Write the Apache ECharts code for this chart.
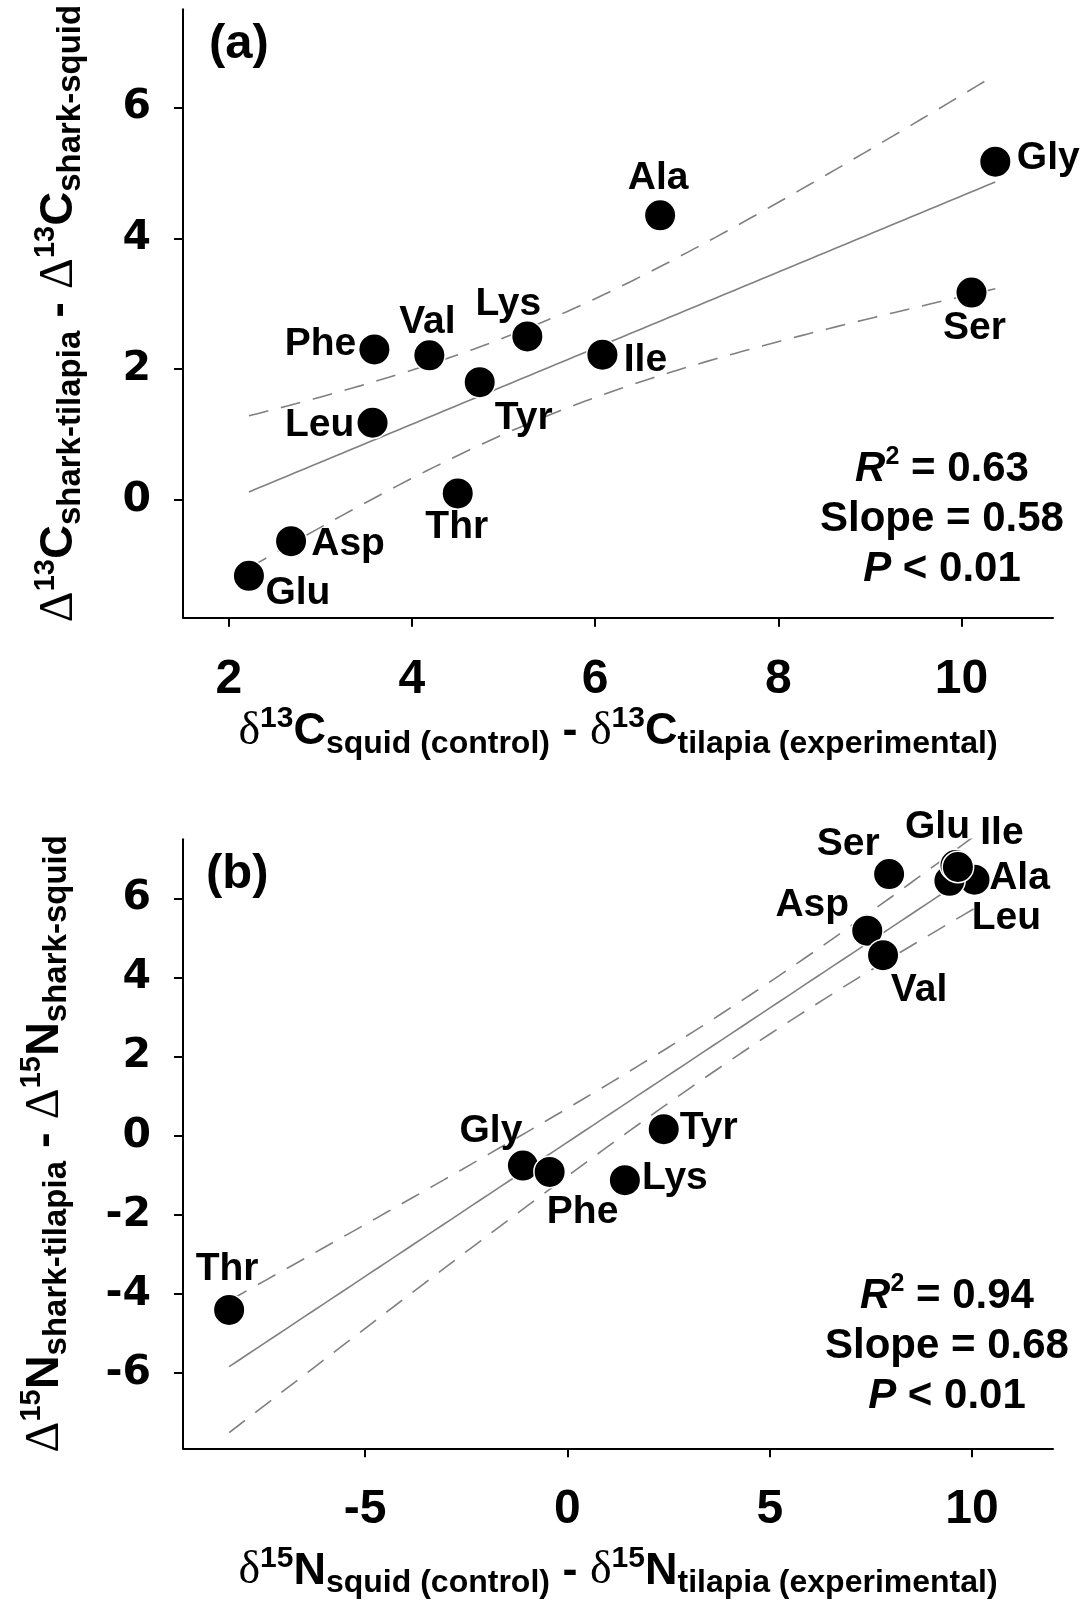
<!DOCTYPE html>
<html>
<head>
<meta charset="utf-8">
<script src="https://cdn.jsdelivr.net/npm/echarts@6/dist/echarts.min.js"></script>
<style>
  html, body { margin: 0; padding: 0; background: #fff; }
  #chart { width: 1082px; height: 1615px; }
</style>
</head>
<body>
<div id="chart"></div>
<script>
// ---- (a) carbon: amino acids and their offsets ----
const aminoC   = ['Glu', 'Asp', 'Leu', 'Phe', 'Thr', 'Val', 'Tyr', 'Lys', 'Ile', 'Ala', 'Ser', 'Gly'];
const carbonX  = [2.22, 2.68, 3.57, 3.59, 4.50, 4.19, 4.74, 5.26, 6.08, 6.71, 10.11, 10.37];
const carbonY  = [-1.16, -0.63, 1.18, 2.30, 0.10, 2.21, 1.80, 2.50, 2.22, 4.35, 3.17, 5.17];

// ---- (b) nitrogen ----
const aminoN    = ['Thr', 'Gly', 'Phe', 'Lys', 'Tyr', 'Asp', 'Val', 'Ser', 'Ala', 'Leu', 'Glu', 'Ile'];
const nitrogenX = [-8.36, -1.10, -0.44, 1.42, 2.38, 7.41, 7.80, 7.95, 10.06, 9.44, 9.59, 9.65];
const nitrogenY = [-4.40, -0.75, -0.91, -1.12, 0.17, 5.19, 4.57, 6.62, 6.48, 6.45, 6.85, 6.80];

// ---- tick labels ----
const xTicksC = [2, 4, 6, 8, 10];
const yTicksC = [0, 2, 4, 6];
const xTicksN = [-5, 0, 5, 10];
const yTicksN = [-6, -4, -2, 0, 2, 4, 6];

// ---- regression statistics printed in each panel ----
const statsC = { r2: '0.63', slope: '0.58', p: '0.01' };
const statsN = { r2: '0.94', slope: '0.68', p: '0.01' };

// label placement (pixel offset of each name from its point)
const labelOffsetC = {
  Phe: [-54, -5], Val: [-2, -33], Lys: [-19, -32], Tyr: [44, 36], Leu: [-53, 2], Thr: [-1, 34],
  Asp: [57, 3], Glu: [49, 17], Ile: [43, 6], Gly: [53, -3], Ser: [3, 36], Ala: [-2, -37]
};
const labelOffsetN = {
  Thr: [-2, -41], Gly: [-32, -34], Phe: [33, 40], Lys: [50, -2], Tyr: [45, -1], Asp: [-55, -25],
  Val: [36, 35], Ser: [-41, -30], Glu: [-18, -38], Ile: [44, -34], Ala: [45, -1], Leu: [57, 37]
};

const SANS = '"Liberation Sans", Arial, Helvetica, sans-serif';
const SERIF = '"Liberation Serif", "Times New Roman", serif';
const DIGITS = '"DejaVu Sans", sans-serif';
const GREY = '#808080';
const T_95_DF10 = 2.228; // two-sided 95% t quantile, 10 degrees of freedom

// least-squares fit with 95% confidence band for the mean response
function fitWithBand(xs, ys, tCrit, steps) {
  const n = xs.length;
  const mx = xs.reduce((a, b) => a + b, 0) / n;
  const my = ys.reduce((a, b) => a + b, 0) / n;
  let sxx = 0, sxy = 0, syy = 0;
  for (let i = 0; i < n; i++) {
    const dx = xs[i] - mx, dy = ys[i] - my;
    sxx += dx * dx; sxy += dx * dy; syy += dy * dy;
  }
  const slope = sxy / sxx;
  const icpt = my - slope * mx;
  const s = Math.sqrt((syy - slope * sxy) / (n - 2));
  const lo = Math.min(...xs), hi = Math.max(...xs);
  const fit = [], upper = [], lower = [];
  for (let i = 0; i <= steps; i++) {
    const x = lo + (hi - lo) * i / steps;
    const yh = icpt + slope * x;
    const half = tCrit * s * Math.sqrt(1 / n + (x - mx) * (x - mx) / sxx);
    fit.push([x, yh]); upper.push([x, yh + half]); lower.push([x, yh - half]);
  }
  return { fit, upper, lower };
}

function titleRich(o) {
  return {
    m:   { fontFamily: SANS, fontWeight: 'bold', fontSize: o.main, lineHeight: o.L, color: '#000' },
    g:   { fontFamily: SERIF, fontWeight: 'normal', fontSize: o.greek, lineHeight: o.L, color: '#000' },
    sup: { fontFamily: SANS, fontWeight: 'bold', fontSize: o.sup, lineHeight: o.L - 2 * o.supOff, verticalAlign: 'top', color: '#000' },
    sub: { fontFamily: SANS, fontWeight: 'bold', fontSize: o.sub, lineHeight: o.L - 2 * o.subOff, verticalAlign: 'bottom', color: '#000' }
  };
}
const xTitleRich = titleRich({ main: 45, greek: 46, sup: 30, sub: 32, L: 56, supOff: 15, subOff: 21 });
const yTitleRich = titleRich({ main: 47, greek: 48, sup: 29, sub: 33, L: 56, supOff: 15, subOff: 17 });

function isotopeTitle(greek, mass, el, subA, subB) {
  return '{g|' + greek + '}{sup|' + mass + '}{m|' + el + '}{sub|' + subA + '}{m| - }' +
         '{g|' + greek + '}{sup|' + mass + '}{m|' + el + '}{sub|' + subB + '}';
}

function xAxisCfg(gridIndex, min, max, ticks, name, gap, margin) {
  return {
    type: 'value', gridIndex, min, max,
    axisLine: { onZero: false, lineStyle: { color: '#000', width: 2 } },
    axisTick: { customValues: ticks, length: 9, lineStyle: { color: '#000', width: 2 } },
    axisLabel: { customValues: ticks, margin, color: '#000', fontFamily: SANS, fontWeight: 'bold', fontSize: 48 },
    splitLine: { show: false },
    name, nameLocation: 'middle', nameGap: gap, nameMoveOverlap: false,
    nameTextStyle: { rich: xTitleRich, color: '#000' }
  };
}
function yAxisCfg(gridIndex, min, max, ticks, name, gap) {
  return {
    type: 'value', gridIndex, min, max,
    axisLine: { onZero: false, lineStyle: { color: '#000', width: 2 } },
    axisTick: { customValues: ticks, length: 9, lineStyle: { color: '#000', width: 2 } },
    axisLabel: { customValues: ticks, margin: 32, color: '#000', fontFamily: DIGITS, fontWeight: 'bold', fontSize: 41 },
    splitLine: { show: false },
    name, nameLocation: 'middle', nameRotate: 90, nameGap: gap, nameMoveOverlap: false,
    nameTextStyle: { rich: yTitleRich, color: '#000' }
  };
}

function pointSeries(idx, names, xs, ys, offsets) {
  return {
    type: 'scatter', xAxisIndex: idx, yAxisIndex: idx, z: 5, silent: true,
    symbol: 'circle', symbolSize: 31.5,
    itemStyle: { color: '#000', borderColor: '#fff', borderWidth: 1.5, opacity: 1 },
    emphasis: { disabled: true },
    data: names.map((nm, i) => ({
      name: nm, value: [xs[i], ys[i]],
      label: { offset: offsets[nm] }
    })),
    label: {
      show: true, position: 'inside', formatter: '{b}', color: '#000',
      fontFamily: SANS, fontWeight: 'bold', fontSize: 39
    }
  };
}
function bandSeries(idx, band) {
  const common = { type: 'line', xAxisIndex: idx, yAxisIndex: idx, showSymbol: false, symbol: 'none', silent: true, z: 2 };
  return [
    Object.assign({}, common, { data: band.fit, lineStyle: { color: GREY, width: 1.6, type: 'solid' } }),
    Object.assign({}, common, { data: band.upper, lineStyle: { color: GREY, width: 1.6, type: [20, 13] } }),
    Object.assign({}, common, { data: band.lower, lineStyle: { color: GREY, width: 1.6, type: [20, 13] } })
  ];
}

const bandC = fitWithBand(carbonX, carbonY, T_95_DF10, 80);
const bandN = fitWithBand(nitrogenX, nitrogenY, T_95_DF10, 80);

const statsRich = {
  b:  { fontFamily: SANS, fontWeight: 'bold', fontSize: 42, lineHeight: 50, fill: '#000' },
  ri: { fontFamily: SANS, fontWeight: 'bold', fontStyle: 'italic', fontSize: 42, lineHeight: 50, fill: '#000' },
  sp: { fontFamily: SANS, fontWeight: 'bold', fontSize: 25, lineHeight: 20, verticalAlign: 'top', fill: '#000' }
};
function statsText(st) {
  return '{ri|R}{sp|2}{b| = ' + st.r2 + '}\n{b|Slope = ' + st.slope + '}\n{ri|P}{b| < ' + st.p + '}';
}

const chart = echarts.init(document.getElementById('chart'), null, { renderer: 'canvas' });
chart.setOption({
  animation: false,
  backgroundColor: '#fff',
  grid: [
    { left: 183, top: 9.3, width: 870, height: 608.4, containLabel: false, outerBoundsMode: 'none' },
    { left: 183, top: 839.3, width: 870, height: 609, containLabel: false, outerBoundsMode: 'none' }
  ],
  xAxis: [
    xAxisCfg(0, 1.5, 11, xTicksC, isotopeTitle('δ', '13', 'C', 'squid (control)', 'tilapia (experimental)'), 86, 38),
    xAxisCfg(1, -9.5, 12, xTicksN, isotopeTitle('δ', '15', 'N', 'squid (control)', 'tilapia (experimental)'), 95, 37)
  ],
  yAxis: [
    yAxisCfg(0, -1.8, 7.5, yTicksC, isotopeTitle('Δ', '13', 'C', 'shark-tilapia', 'shark-squid'), 96),
    yAxisCfg(1, -7.9, 7.5, yTicksN, isotopeTitle('Δ', '15', 'N', 'shark-tilapia', 'shark-squid'), 110)
  ],
  series: [
    ...bandSeries(0, bandC),
    pointSeries(0, aminoC, carbonX, carbonY, labelOffsetC),
    ...bandSeries(1, bandN),
    pointSeries(1, aminoN, nitrogenX, nitrogenY, labelOffsetN)
  ],
  graphic: [
    { type: 'text', x: 209, y: 44.5, silent: true,
      style: { text: '(a)', fill: '#000', fontFamily: SANS, fontWeight: 'bold', fontSize: 49, align: 'left', verticalAlign: 'middle' } },
    { type: 'text', x: 206, y: 874.5, silent: true,
      style: { text: '(b)', fill: '#000', fontFamily: SANS, fontWeight: 'bold', fontSize: 49, align: 'left', verticalAlign: 'middle' } },
    { type: 'text', x: 942, y: 519.5, silent: true,
      style: { text: statsText(statsC), rich: statsRich, fill: '#000', fontFamily: SANS, fontSize: 42, align: 'center', verticalAlign: 'middle' } },
    { type: 'text', x: 947, y: 1346.5, silent: true,
      style: { text: statsText(statsN), rich: statsRich, fill: '#000', fontFamily: SANS, fontSize: 42, align: 'center', verticalAlign: 'middle' } }
  ]
});
</script>
</body>
</html>
